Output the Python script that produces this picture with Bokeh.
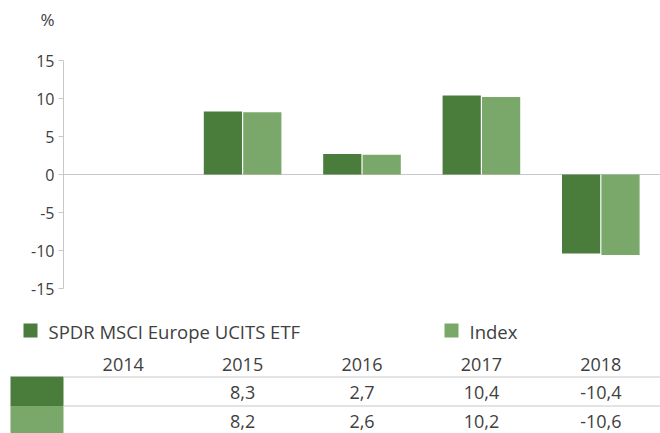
import numpy as np
from bokeh.plotting import figure
from bokeh.models import ColumnDataSource, FactorRange, Range1d, FixedTicker, Title
from bokeh.transform import dodge
from bokeh.layouts import column, row
from bokeh.embed import file_html
from bokeh.resources import INLINE
from bokeh.core.properties import value

# ---- data ----
years = ["2014", "2015", "2016", "2017", "2018"]
etf = [np.nan, 8.3, 2.7, 10.4, -10.4]
index = [np.nan, 8.2, 2.6, 10.2, -10.6]
y_ticks = [15, 10, 5, 0, -5, -10, -15]
grid_ticks = [-15, 0, 15]
series_names = ["SPDR MSCI Europe UCITS ETF", "Index"]
unit_label = "%"

# ---- style ----
DARK = "#4A7C3B"
LIGHT = "#7AA86B"
GRID = "#C8C8C8"
TXT = "#404040"
FONT = "Open Sans"

W = 660
LEFT = 63
TOP_H = 300
FRAME_TOP = 60
FRAME_BOTTOM = 12
TABLE_H = 433 - TOP_H
UNIT = (W - LEFT) / len(years)

def fmt(v):
    return "" if np.isnan(v) else f"{v:.1f}".replace(".", ",")

# ---- chart ----
p = figure(width=W, height=TOP_H, x_range=FactorRange(*years), y_range=Range1d(-15, 15),
           output_backend="svg", toolbar_location=None, tools="",
           x_axis_location=None,
           min_border_left=LEFT, min_border_right=0, min_border_top=FRAME_TOP,
           min_border_bottom=FRAME_BOTTOM, outline_line_color=None,
           background_fill_color="white", border_fill_color="white")

# empty spacer title next to the frame, then the unit label above it
p.add_layout(Title(text=" ", text_font=FONT, text_font_size="21px", standoff=0), "above")
p.add_layout(Title(text=unit_label, align="left", offset=40 - LEFT, text_font=FONT,
                   text_font_size="17px", text_font_style="normal", text_color=TXT,
                   standoff=0), "above")

src = ColumnDataSource(dict(years=years, etf=np.array(etf), index=np.array(index)))
p.vbar(x=dodge("years", -0.165, range=p.x_range), top="etf", width=0.32, source=src,
       fill_color=DARK, line_color=None)
p.vbar(x=dodge("years", 0.165, range=p.x_range), top="index", width=0.32, source=src,
       fill_color=LIGHT, line_color=None)

p.xgrid.visible = False
p.ygrid.ticker = FixedTicker(ticks=grid_ticks)
p.ygrid.grid_line_color = GRID
p.ygrid.grid_line_width = 1

ax = p.yaxis[0]
ax.ticker = FixedTicker(ticks=y_ticks)
ax.major_label_overrides = {t: str(t) for t in y_ticks}
ax.axis_line_color = GRID
ax.major_tick_line_color = GRID
ax.major_tick_out = 5
ax.major_tick_in = 0
ax.minor_tick_line_color = None
ax.major_label_text_font = FONT
ax.major_label_text_font_size = "16px"
ax.major_label_text_color = TXT
ax.major_label_standoff = 4

# ---- legend + table ----
def px(xs):
    return (xs - LEFT) / UNIT - 0.5

p2 = figure(width=W, height=TABLE_H, x_range=Range1d(px(0), px(W)), y_range=Range1d(TABLE_H, 0),
            output_backend="svg", toolbar_location=None, tools="",
            x_axis_location=None, y_axis_location=None, min_border=0,
            min_border_left=0, min_border_right=0, min_border_top=0, min_border_bottom=0,
            outline_line_color=None, background_fill_color="white", border_fill_color="white")
p2.grid.visible = False

# legend
p2.quad(left=[px(23), px(444)], right=[px(37), px(458)], top=[23, 23], bottom=[37, 37],
        fill_color=[DARK, LIGHT], line_color=None)
p2.text(x=[px(48), px(469)], y=[31, 31], text=series_names, text_align="left",
        text_baseline="middle", text_font=value(FONT), text_font_size="18.5px", text_color=TXT)

# table swatches and lines
p2.quad(left=[px(10), px(10)], right=[px(LEFT), px(LEFT)], top=[76, 105.5], bottom=[105.5, 133],
        fill_color=[DARK, LIGHT], line_color=None)
p2.segment(x0=[-0.5, -0.5], x1=[4.5, 4.5], y0=[76.5, 105.5], y1=[76.5, 105.5],
           line_color=GRID, line_width=1)

idx = list(range(len(years)))
tsrc = ColumnDataSource(dict(x=idx, years=years, etf=[fmt(v) for v in etf],
                             index=[fmt(v) for v in index]))
common = dict(text_align="center", text_baseline="middle", text_font=value(FONT),
              text_font_size="18px", text_color=TXT, source=tsrc)
p2.text(x="x", y=63.5, text="years", **common)
p2.text(x="x", y=92, text="etf", **common)
p2.text(x="x", y=121, text="index", **common)

layout = column(p, row(p2, spacing=0), spacing=0)
open("out.html", "w").write(file_html(layout, INLINE))
